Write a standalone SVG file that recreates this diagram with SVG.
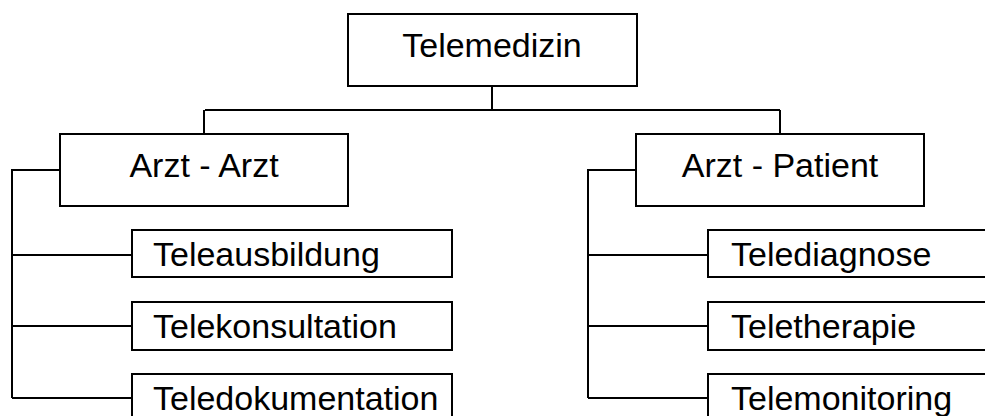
<svg xmlns="http://www.w3.org/2000/svg" width="985" height="416" viewBox="0 0 985 416">
  <style>
    .box { fill: #fff; stroke: #000; stroke-width: 2; }
    .wire { fill: none; stroke: #000; stroke-width: 2; }
    .lbl { font-family: "Liberation Sans", Arial, sans-serif; font-size: 34px; fill: #000; }
    .mid { text-anchor: middle; }
  </style>
  <rect width="985" height="416" fill="#fff"/>

  <g id="connectors">
    <!-- root to the two branches -->
    <path class="wire" d="M492 86 V110 M205 110 H780 M204 110 V134 M780 110 V134"/>
    <!-- Arzt - Arzt spine -->
    <path class="wire" d="M60 170 H12 V398 M12 255 H132 M12 326 H132 M12 398 H132"/>
    <!-- Arzt - Patient spine -->
    <path class="wire" d="M636 170 H588 V398 M588 255 H708 M588 326 H708 M588 398 H708"/>
  </g>

  <g id="telemedizin">
    <rect class="box" x="348" y="14" width="289" height="72"/>
    <text class="lbl mid" x="492" y="57">Telemedizin</text>
  </g>

  <g id="arzt-arzt">
    <rect class="box" x="60" y="134" width="288" height="72"/>
    <text class="lbl mid" x="204" y="177">Arzt - Arzt</text>
  </g>

  <g id="arzt-patient">
    <rect class="box" x="636" y="134" width="288" height="72"/>
    <text class="lbl mid" x="780" y="177">Arzt - Patient</text>
  </g>

  <g id="teleausbildung">
    <rect class="box" x="132" y="230" width="320" height="47"/>
    <text class="lbl" x="153" y="266">Teleausbildung</text>
  </g>

  <g id="telekonsultation">
    <rect class="box" x="132" y="302" width="320" height="48"/>
    <text class="lbl" x="153" y="338">Telekonsultation</text>
  </g>

  <g id="teledokumentation">
    <rect class="box" x="132" y="374" width="320" height="48"/>
    <text class="lbl" x="153" y="410">Teledokumentation</text>
  </g>

  <g id="telediagnose">
    <rect class="box" x="708" y="230" width="290" height="47"/>
    <text class="lbl" x="731" y="266">Telediagnose</text>
  </g>

  <g id="teletherapie">
    <rect class="box" x="708" y="302" width="290" height="48"/>
    <text class="lbl" x="731" y="338">Teletherapie</text>
  </g>

  <g id="telemonitoring">
    <rect class="box" x="708" y="374" width="290" height="48"/>
    <text class="lbl" x="731" y="410">Telemonitoring</text>
  </g>
</svg>
